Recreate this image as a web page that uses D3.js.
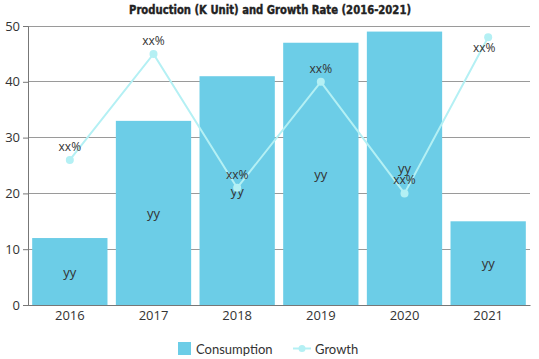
<!DOCTYPE html>
<html><head><meta charset="utf-8">
<script src="https://cdn.jsdelivr.net/npm/d3@7"></script>
<style>body{margin:0;background:#fff}svg{display:block}</style>
</head><body>
<script>
const years = ["2016","2017","2018","2019","2020","2021"];
const consumption = [12, 33, 41, 47, 49, 15];
const growth = [26, 45, 21, 40, 20, 48];
const barLabels = ["yy","yy","yy","yy","yy","yy"];
const growthLabels = ["xx%","xx%","xx%","xx%","xx%","xx%"];
const yTicks = [0,10,20,30,40,50];

const W = 539, H = 359;
const m = {left: 28, right: 9, top: 26, bottom: 54};
const svg = d3.select("body").append("svg").attr("width", W).attr("height", H);

const x = d3.scaleBand().domain(years).range([m.left, W - m.right]).paddingInner(0.1).paddingOuter(0.05);
const y = d3.scaleLinear().domain([0, 50]).range([H - m.bottom, m.top]);

// gridlines
svg.append("g").selectAll("line").data(yTicks).join("line")
  .attr("x1", m.left).attr("x2", W - m.right)
  .attr("y1", d => y(d)).attr("y2", d => y(d))
  .attr("stroke", "#9a9a9a").attr("stroke-width", 1).attr("shape-rendering", "crispEdges");

// y axis
const ya = svg.append("g").attr("transform", `translate(${m.left},0)`)
  .call(d3.axisLeft(y).tickValues(yTicks).tickSize(5).tickPadding(3));
ya.select(".domain").attr("stroke", "#777");
ya.selectAll(".tick line").attr("stroke", "#777");
ya.selectAll("text").attr("font-family", "Open Sans, sans-serif").attr("font-size", 13).attr("fill", "#333");

// bars
svg.append("g").selectAll("rect").data(consumption).join("rect")
  .attr("x", (d, i) => x(years[i])).attr("width", x.bandwidth())
  .attr("y", d => y(d)).attr("height", d => y(0) - y(d))
  .attr("fill", "#6ccde7");

// x axis
const xa = svg.append("g").attr("transform", `translate(0,${y(0)})`)
  .call(d3.axisBottom(x).tickSize(0).tickPadding(6));
xa.select(".domain").attr("stroke", "#777");
xa.selectAll("text").attr("font-family", "Open Sans, sans-serif").attr("font-size", 13).attr("fill", "#333");

// bar labels
svg.append("g").selectAll("text").data(consumption).join("text")
  .attr("x", (d, i) => x(years[i]) + x.bandwidth() / 2)
  .attr("y", d => (y(d) + y(0)) / 2 + 5)
  .attr("text-anchor", "middle").attr("font-family", "Open Sans, sans-serif").attr("font-size", 13).attr("fill", "#333")
  .text((d, i) => barLabels[i]);

// growth line
const cx = i => x(years[i]) + x.bandwidth() / 2;
svg.append("path").datum(growth)
  .attr("d", d3.line().x((d, i) => cx(i)).y(d => y(d)))
  .attr("fill", "none").attr("stroke", "#b4f0f4").attr("stroke-width", 2);
svg.append("g").selectAll("circle").data(growth).join("circle")
  .attr("cx", (d, i) => cx(i)).attr("cy", d => y(d)).attr("r", 4).attr("fill", "#b4f0f4");
svg.append("g").selectAll("text").data(growth).join("text")
  .attr("x", (d, i) => cx(i) - (y(d) - 22 < m.top ? 4 : 0))
  .attr("y", d => (y(d) - 22 < m.top ? y(d) + 15 : y(d) - 9))
  .attr("text-anchor", "middle").attr("font-family", "Open Sans, sans-serif").attr("font-size", 12).attr("fill", "#333")
  .text((d, i) => growthLabels[i]);

// title
svg.append("text").attr("x", 270).attr("y", 14).attr("text-anchor", "middle")
  .attr("font-family", "DejaVu Sans Condensed, DejaVu Sans, sans-serif").attr("font-weight", "bold")
  .attr("font-size", 13).attr("fill", "#222")
  .attr("textLength", 282).attr("lengthAdjust", "spacingAndGlyphs")
  .attr("stroke", "#222").attr("stroke-width", 0.4)
  .text("Production (K Unit) and Growth Rate (2016-2021)");

// legend
const lg = svg.append("g");
lg.append("rect").attr("x", 178).attr("y", 342).attr("width", 13).attr("height", 13).attr("fill", "#6ccde7");
lg.append("text").attr("x", 196).attr("y", 354).attr("font-family", "Lato, sans-serif").attr("font-size", 13).attr("fill", "#333").text("Consumption");
lg.append("line").attr("x1", 293).attr("x2", 311).attr("y1", 348.5).attr("y2", 348.5).attr("stroke", "#b4f0f4").attr("stroke-width", 2);
lg.append("circle").attr("cx", 302).attr("cy", 348.5).attr("r", 3.5).attr("fill", "#b4f0f4");
lg.append("text").attr("x", 315).attr("y", 354).attr("font-family", "Lato, sans-serif").attr("font-size", 13).attr("fill", "#333").text("Growth");
</script>
</body></html>
